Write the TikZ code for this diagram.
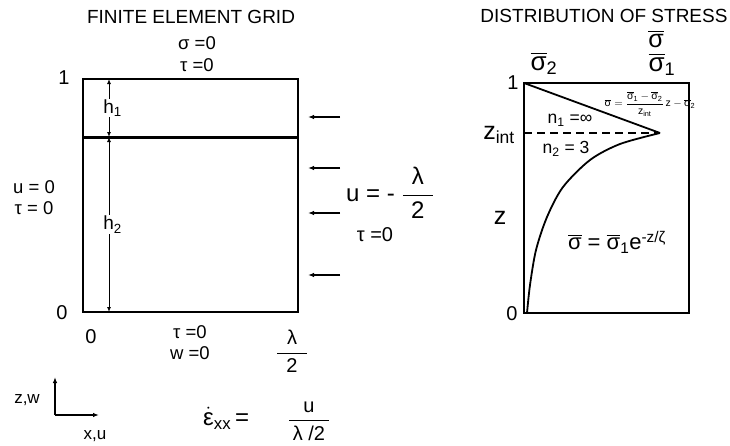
\documentclass[tikz,border=0pt]{standalone}
\usepackage{amsmath}
\usepackage{fontspec}
\setmainfont{Liberation Sans}
\usetikzlibrary{arrows.meta}

\newcommand\fsz[1]{\fontsize{#1}{#1}\selectfont}
\newcommand\sbar{\overline{\text{σ}}}

\begin{document}
\begin{tikzpicture}[
  x=1pt, y=-1pt,
  lbl/.style={inner sep=0pt, font=\fsz{18.5}},
  big/.style={inner sep=0pt, font=\fsz{24}},
  tiny/.style={inner sep=0pt, font=\fsz{10.5}},
  title/.style={inner sep=0pt, font=\fsz{19}},
  frame/.style={line width=1.4pt},
  load/.style={-{Latex[length=6pt,width=4.5pt]}, line width=1.3pt},
  dim/.style={{Latex[length=5pt,width=4pt]}-{Latex[length=5pt,width=4pt]}, line width=0.9pt},
  axis/.style={-{Latex[length=6pt,width=4.5pt]}, line width=1.2pt},
  curve/.style={line width=1.8pt}
]
\useasboundingbox (0,0) rectangle (730,445);

% finite element grid
\coordinate (gTL) at (83,79);
\coordinate (gBR) at (298,312);
\coordinate (ifL) at (83,137);
\coordinate (ifR) at (298,137);
\draw[frame] (gTL) rectangle (gBR);
\draw[line width=3pt] (ifL) -- (ifR);

\coordinate (hTop) at (109,79);
\coordinate (hMid) at (109,137);
\coordinate (hBot) at (109,312);
\draw[dim] (hTop) -- (hMid) node[midway, lbl, fill=white, inner sep=1pt, xshift=3.5pt, font=\fsz{19}] (h1) {h$_{\text{1}}$};
\draw[dim] (hMid) -- (hBot) node[midway, lbl, fill=white, inner sep=1pt, xshift=3.5pt, font=\fsz{19}] (h2) {h$_{\text{2}}$};

\foreach \y [count=\i] in {117,168,213,275} {
  \coordinate (ld\i) at (340,\y);
  \coordinate (lt\i) at (308,\y);
  \draw[load] (ld\i) -- (lt\i);
}

\node[title] (gridtitle) at (191,17) {FINITE ELEMENT GRID};
\node[lbl] (topsig) at (197,43) {σ =0};
\node[lbl] (toptau) at (197,65) {τ =0};
\node[lbl, font=\fsz{20}] (gone) at (64,78) {1};
\node[lbl, font=\fsz{20}] (gzero) at (62,313) {0};
\node[lbl, font=\fsz{20}] (xzero) at (91,337) {0};
\node[lbl] (bottau) at (190,332) {τ =0};
\node[lbl] (botw) at (190,353) {w =0};
\node[lbl, font=\fsz{20}] (halflam) at (292,351) {$\dfrac{\makebox[30pt]{λ}}{\text{2}}$};
\node[lbl] (leftu) at (34,187) {u = 0};
\node[lbl] (lefttau) at (34,208) {τ = 0};
\node[big, anchor=west] (uload) at (346,193) {u = - $\dfrac{\makebox[30pt]{λ}}{\text{2}}$};
\node[lbl, font=\fsz{20}] (righttau) at (375,235) {τ =0};

% axes
\coordinate (orig) at (55,415);
\coordinate (zend) at (55,377);
\coordinate (xend) at (99,415);
\draw[axis] (orig) -- (zend);
\draw[axis] (orig) -- (xend);
\node[lbl, font=\fsz{17}] (zw) at (27,400) {z,w};
\node[lbl, font=\fsz{17}] (xu) at (95,436) {x,u};

\node[big, anchor=west] (strain) at (203,418) {$\dot{\text{ε}}_{\text{xx}}$\,=};
\node[lbl, font=\fsz{20}] (strainfrac) at (309,421) {$\dfrac{\text{u}}{\makebox[40pt]{λ /2}}$};

% distribution of stress
\coordinate (sTL) at (524,83);
\coordinate (sBR) at (689,313);
\coordinate (apex) at (660,133);
\coordinate (sint) at (524,133);
\draw[frame] (sTL) rectangle (sBR);
\draw[curve] (sTL) -- (apex);
\draw[curve, dash pattern=on 8pt off 5pt] (sint) -- (apex);
\draw[curve] plot[smooth] coordinates {(660,133) (620,144) (590,160) (563,187) (547,217) (536,250) (530,285) (527,313)};

\node[title] (stresstitle) at (604,16) {DISTRIBUTION OF STRESS};
\node[lbl, font=\fsz{26}] (sig2) at (544,63) {$\sbar_{\text{2}}$};
\node[lbl, font=\fsz{25}] (sigtop) at (656,39) {$\sbar$};
\node[lbl, font=\fsz{26}] (sig1) at (662,64) {$\sbar_{\text{1}}$};
\node[lbl, font=\fsz{20}] (sone) at (513,83) {1};
\node[lbl, font=\fsz{25}] (zint) at (499,135) {z$_{\text{int}}$};
\node[lbl, font=\fsz{25}] (zlab) at (500,218) {z};
\node[lbl, font=\fsz{20}] (szero) at (512,314) {0};
\node[lbl, font=\fsz{17.5}] (n1) at (570,120) {n$_{\text{1}}$ =∞};
\node[lbl, font=\fsz{17.5}] (n2) at (566,149) {n$_{\text{2}}$ = 3};
\node[tiny] (linear) at (650,104) {$\sbar = \dfrac{\sbar_{\text{1}} - \sbar_{\text{2}}}{\text{z}_{\text{int}}}\,\text{z} - \sbar_{\text{2}}$};
\node[lbl, font=\fsz{22}] (expo) at (617,242) {$\sbar$ = $\sbar_{\text{1}}$e$^{\text{-z/ζ}}$};
\end{tikzpicture}
\end{document}
